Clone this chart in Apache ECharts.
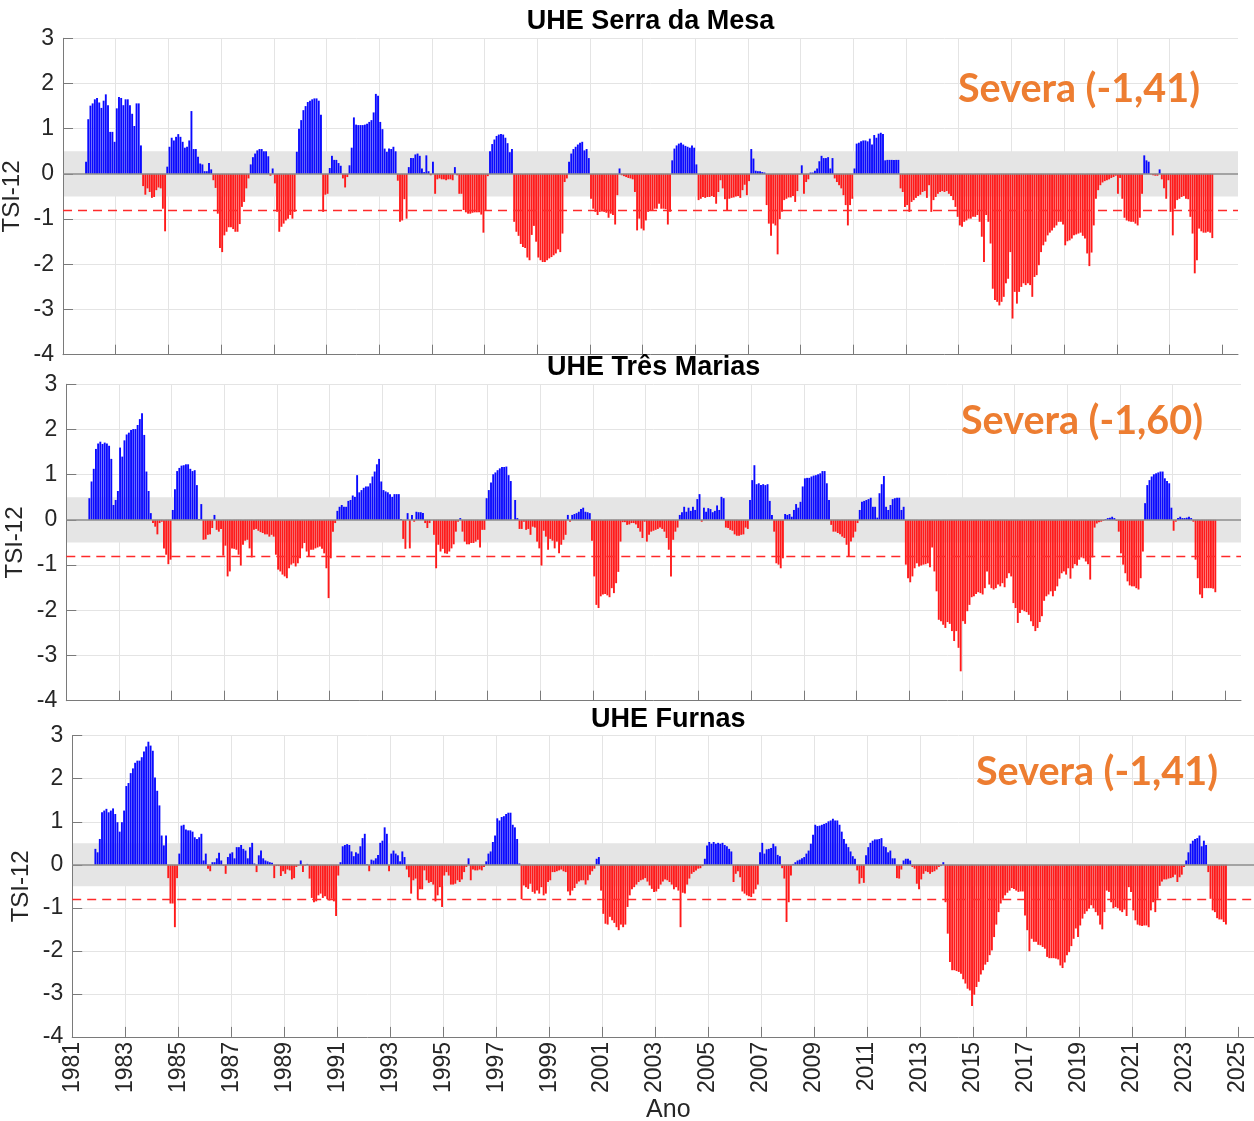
<!DOCTYPE html>
<html>
<head>
<meta charset="utf-8">
<script src="https://cdn.jsdelivr.net/npm/echarts@6/dist/echarts.min.js"></script>
<style>
html,body{margin:0;padding:0;background:#ffffff;}
#chart{width:1254px;height:1121px;}
</style>
</head>
<body>
<div id="chart"></div>
<script>
// ---------------- DATA ----------------
// Monthly TSI-12 values, first value = November 1981
const startYear = 1981;
const startMonth = 11;
const baseYear = 1981;           // x axis origin (labels are baseYear + value)
const tickYears = [1981,1983,1985,1987,1989,1991,1993,1995,1997,1999,2001,2003,2005,2007,2009,2011,2013,2015,2017,2019,2021,2023,2025];
const yTicks = [-4,-3,-2,-1,0,1,2,3];
const titles = ['UHE Serra da Mesa', 'UHE Três Marias', 'UHE Furnas'];
const severaLabels = ['Severa (-1,41)', 'Severa (-1,60)', 'Severa (-1,41)'];
const yAxisName = 'TSI-12';
const xAxisName = 'Ano';
const bandLimits = [-0.5, 0.5];
const dashedLevel = -0.8;

const serraDaMesa = [
0.27,1.21,1.51,1.56,1.65,1.68,1.58,1.46,1.62,1.76,1.52,0.93,0.93,0.71,1.45,1.70,1.68,1.52,1.65,1.65,1.52,1.33,1.06,1.56,1.56,0.63,
-0.27,-0.46,-0.32,-0.40,-0.53,-0.51,-0.36,-0.30,-0.32,-0.77,-1.27,
0.16,0.60,0.80,0.74,0.82,0.88,0.82,0.71,0.58,0.60,0.74,1.39,0.55,0.55,0.38,0.23,0.21,0.06,0.06,0.24,0.10,
-0.14,-0.31,-0.88,-1.64,-1.73,-1.36,-1.28,-1.18,-1.18,-1.22,-1.28,-1.28,-1.11,-0.73,-0.62,-0.32,-0.10,
0.21,0.37,0.45,0.52,0.55,0.55,0.50,0.50,0.39,-0.04,0.12,
-0.21,-0.84,-1.28,-1.17,-1.10,-1.03,-0.99,-0.91,-0.99,-0.84,
0.49,1.00,1.19,1.41,1.50,1.59,1.62,1.65,1.67,1.67,1.62,1.31,
-0.84,-0.46,-0.44,
0.13,0.40,0.31,0.31,0.24,0.18,
-0.10,-0.30,-0.07,
0.19,0.58,1.25,1.09,1.08,1.08,1.08,1.09,1.11,1.15,1.19,1.36,1.77,1.73,1.15,0.99,0.56,0.49,0.56,0.55,0.60,0.50,
-0.15,-1.06,-1.03,-0.56,-0.99,
0.15,0.35,0.35,0.43,0.45,0.40,0.12,0.04,0.41,0.06,-0.03,0.27,
-0.44,-0.12,-0.10,-0.12,-0.12,-0.14,-0.12,-0.12,-0.14,0.15,-0.03,-0.44,-0.44,-0.80,
-0.85,-0.88,-0.88,-0.86,-0.85,-0.85,-0.85,-0.90,-1.30,-0.82,-0.05,
0.50,0.66,0.76,0.84,0.87,0.88,0.87,0.80,0.68,0.48,0.55,
-1.06,-1.28,-1.37,-1.55,-1.62,-1.64,-1.85,-1.91,-1.35,-1.15,-1.50,-1.85,-1.91,-1.95,-1.95,-1.91,-1.87,-1.84,-1.80,-1.76,-1.67,-1.73,-1.32,-0.18,-0.10,
0.27,0.45,0.55,0.60,0.65,0.69,0.71,0.52,0.55,0.35,
-0.55,-0.77,-0.84,-0.91,-0.84,-0.83,-0.84,-0.86,-0.97,-0.88,-0.91,-1.12,-0.47,
0.12,
-0.03,-0.05,-0.07,-0.09,-0.10,-0.12,-0.40,
-1.25,-0.99,-1.21,-1.25,-1.03,-0.84,-0.80,-0.80,-0.77,-0.77,-0.66,-0.77,-0.77,-0.78,-1.12,-0.84,
0.30,0.56,0.63,0.67,0.69,0.65,0.62,0.60,0.58,0.63,0.58,0.21,
-0.58,-0.55,-0.51,-0.53,-0.51,-0.51,-0.49,-0.51,-0.66,-0.40,-0.14,-0.32,-0.56,-0.80,-0.55,-0.53,-0.52,-0.50,-0.49,-0.53,-0.36,-0.24,-0.47,-0.16,
0.55,0.34,0.07,0.06,0.06,0.04,0.03,
-0.69,-1.10,-1.37,-1.10,-1.14,-1.78,-1.00,-0.84,-0.58,-0.55,-0.52,-0.52,-0.49,-0.62,-0.38,-0.01,
0.19,
-0.44,-0.18,-0.12,
0.03,0.03,0.07,0.12,0.28,0.40,0.35,0.35,0.37,0.12,0.35,
-0.10,-0.18,-0.25,-0.32,-0.47,-0.69,-1.14,-0.69,-0.55,
0.12,0.67,0.69,0.72,0.74,0.74,0.72,0.78,0.65,0.86,0.80,0.89,0.91,0.88,0.30,0.31,0.31,0.31,0.31,0.31,0.31,
-0.32,-0.40,-0.73,-0.69,-0.84,-0.62,-0.58,-0.53,-0.49,-0.46,
-0.40,-0.38,-0.53,-0.25,-0.84,-0.58,-0.51,-0.44,-0.40,-0.38,
-0.40,-0.38,-0.44,-0.49,-0.58,-0.73,-0.95,-1.14,-1.17,-1.06,
-1.03,-0.99,-0.99,-0.95,-0.95,-0.91,-1.06,-1.39,-1.95,-0.91,
-1.06,-1.54,-2.54,-2.79,-2.83,-2.91,-2.83,-2.72,-2.42,-2.32,
-1.73,-3.20,-2.61,-2.87,-2.61,-2.50,-2.42,-2.46,-2.42,-2.46,
-2.72,-2.28,-2.24,-2.02,-1.73,-1.58,-1.50,-1.36,-1.30,-1.25,
-1.19,-1.14,-1.06,-1.06,-1.12,-1.58,-1.49,-1.47,-1.43,-1.36,
-1.34,-1.32,-1.30,-1.37,-1.43,-1.76,-2.04,-1.74,-1.14,-0.55,
-0.36,-0.25,-0.19,-0.16,-0.14,-0.12,-0.09,-0.07,-0.04,-0.44,
-0.09,-0.55,-0.97,-1.03,-1.05,-1.06,-1.06,-1.10,-1.14,-0.97,
-0.44,0.41,0.30,0.27,-0.01,-0.03,-0.04,-0.04,0.10,-0.12,
-0.32,-0.55,-0.14,-0.84,-1.36,-0.77,-0.58,-0.55,-0.51,-0.49,
-0.55,-0.56,-0.95,-1.32,-2.20,-1.91,-1.21,-1.27,-1.30,-1.30,
-1.28,-1.30,-1.42
];

const tresMarias = [
0.48,0.85,1.13,1.57,1.69,1.73,1.68,1.71,1.69,1.64,1.35,0.33,0.44,0.64,1.60,1.40,1.76,1.89,1.93,1.99,2.01,2.01,2.10,2.23,2.36,1.88,1.07,0.64,0.15,
-0.07,-0.15,-0.32,-0.07,-0.04,-0.63,-0.77,-0.98,-0.88,
0.22,0.68,1.08,1.15,1.20,1.21,1.23,1.23,1.13,1.08,1.10,0.77,0.02,0.35,
-0.44,-0.43,-0.33,-0.32,-0.18,0.11,
-0.22,-0.26,-0.20,-0.79,-0.57,-1.25,-1.14,-0.63,-0.64,-0.66,-0.77,-1.01,-0.55,-0.46,-0.44,-0.63,-0.83,-0.22,
-0.20,-0.24,-0.27,-0.29,-0.32,-0.32,-0.37,-0.33,-0.37,-0.77,-1.10,-1.14,-1.21,-1.25,-1.29,-1.07,-0.99,-0.96,-1.03,-0.96,-0.85,-0.63,-0.51,-0.70,-0.81,-0.66,-0.66,-0.63,-0.61,-0.59,-0.64,-0.74,-1.07,-1.73,-0.85,-0.26,-0.07,
0.20,0.29,0.33,0.29,0.29,0.42,0.44,0.54,0.51,0.99,0.61,0.66,0.71,0.74,0.74,0.81,0.96,1.07,1.23,1.35,0.85,0.66,0.63,0.61,0.57,0.51,0.57,0.57,0.57,0.02,
-0.42,-0.64,0.15,-0.63,0.11,-0.04,0.18,0.17,0.17,0.15,-0.07,-0.18,-0.07,0.00,-0.33,-1.07,-0.55,-0.70,-0.64,-0.74,-0.75,-0.70,-0.63,-0.54,-0.26,-0.04,0.04,-0.26,-0.48,
-0.54,-0.54,-0.51,-0.51,-0.48,-0.44,-0.61,-0.22,-0.22,
0.48,0.66,0.83,1.01,1.05,1.10,1.14,1.17,1.17,1.18,0.99,0.86,0.00,0.44,0.04,
-0.20,-0.20,-0.04,-0.22,-0.20,-0.33,-0.15,-0.17,-0.48,-0.63,-1.01,-0.24,-0.37,-0.66,-0.42,-0.46,-0.63,-0.48,-0.74,-0.55,-0.44,-0.33,
0.11,-0.04,0.11,0.13,0.15,0.18,0.24,0.27,0.18,0.17,0.15,
-0.46,-1.25,-1.88,-1.95,-1.69,-1.65,-1.64,-1.67,-1.71,-1.51,-1.62,-1.40,-1.15,-0.48,
-0.05,-0.05,-0.11,-0.10,-0.07,-0.07,-0.10,-0.18,-0.26,-0.40,-0.04,
-0.48,-0.33,-0.26,-0.24,-0.22,-0.20,-0.17,-0.20,-0.26,-0.40,-0.66,-1.25,-0.44,-0.26,-0.17,
0.11,0.17,0.29,0.18,0.27,0.20,0.29,0.22,0.46,0.57,-0.04,0.27,0.18,0.26,0.24,0.17,0.20,0.32,0.22,0.51,0.48,
-0.17,-0.18,-0.22,-0.24,-0.32,-0.35,-0.35,-0.33,-0.32,-0.17,-0.20,
0.44,0.88,1.21,0.79,0.81,0.77,0.79,0.77,0.79,0.42,0.11,
-0.26,-0.96,-0.99,-1.07,-0.85,
0.13,0.11,0.13,0.07,0.22,0.35,0.27,0.40,0.74,0.92,0.93,0.93,0.96,0.98,0.99,1.01,1.03,1.08,1.08,0.81,0.44,
-0.11,-0.26,-0.26,-0.29,-0.32,-0.37,-0.40,-0.55,-0.81,-0.48,-0.39,-0.26,-0.07,
0.22,0.40,0.42,0.44,0.46,0.49,0.29,0.29,0.05,0.59,0.79,0.97,0.29,0.22,0.33,0.46,0.48,0.49,0.49,0.22,0.29,
-0.99,-1.29,-1.38,-1.25,-1.07,-0.96,-1.03,-1.01,-0.99,-0.98,
-0.96,-1.05,-0.61,-1.14,-1.58,-2.21,-2.24,-2.32,-2.39,-2.26,
-2.30,-2.46,-2.68,-2.46,-2.83,-3.35,-2.24,-2.30,-2.02,-1.88,
-1.71,-1.69,-1.64,-1.60,-1.62,-1.65,-1.51,-1.14,-1.43,-1.51,
-1.54,-1.51,-1.43,-1.47,-1.40,-1.49,-1.29,-1.18,-1.25,-1.84,
-1.95,-2.28,-2.06,-1.99,-2.02,-2.04,-2.10,-2.24,-2.35,-2.46,
-2.39,-2.26,-2.13,-1.79,-1.69,-1.65,-1.58,-1.69,-1.57,-1.47,
-1.30,-1.18,-1.14,-1.21,-1.07,-1.30,-1.07,-0.98,-1.01,-0.88,
-0.83,-0.85,-0.92,-0.98,-1.32,-0.83,-0.17,-0.08,-0.05,-0.04,
-0.02,
0.02,0.04,0.05,0.07,0.04,-0.02,
-0.26,-0.74,-0.99,-1.18,-1.36,-1.45,-1.47,-1.47,-1.51,-1.54,-1.29,-0.70,
0.37,0.77,0.88,0.96,1.01,1.03,1.05,1.07,1.07,0.92,0.86,0.81,0.27,
-0.24,
-0.04,0.04,0.07,0.04,0.04,0.05,0.07,0.04,-0.04,
-0.88,-1.29,-1.65,-1.73,-1.51,-1.51,-1.51,-1.51,-1.52,-1.60
];

const furnas = [
0.37,0.29,0.60,1.22,1.26,1.30,1.22,1.26,1.31,1.18,0.99,0.77,0.99,1.26,1.83,1.90,2.13,2.24,2.37,2.42,2.42,2.50,2.63,2.75,2.86,2.77,2.65,2.03,1.72,1.38,0.68,0.45,0.68,
-0.31,-0.90,-0.90,-1.45,-0.31,
0.26,0.91,0.93,0.82,0.80,0.80,0.77,0.64,0.60,0.64,0.72,0.10,0.26,
-0.09,-0.15,
0.06,0.06,0.15,0.28,0.10,
-0.02,-0.21,
0.18,0.26,0.29,0.15,0.41,0.41,0.46,0.37,0.33,0.15,0.41,0.51,
0.03,-0.17,
0.22,0.33,0.15,0.10,0.08,0.06,0.05,
-0.31,-0.03,-0.03,-0.26,-0.15,-0.21,-0.11,-0.13,-0.34,-0.31,-0.05,-0.02,0.10,-0.17,-0.02,0.02,
-0.32,-0.77,-0.87,-0.85,-0.71,-0.67,-0.77,-0.73,-0.80,-0.83,-0.79,-0.85,-1.19,-0.25,
0.06,0.43,0.46,0.48,0.46,0.31,0.20,0.29,0.26,0.43,0.62,0.72,
0.02,-0.15,
0.12,0.10,0.15,0.23,0.51,0.56,0.87,0.72,
-0.15,
0.26,0.33,0.26,0.22,0.08,0.31,0.18,
-0.11,-0.29,-0.67,-0.36,-0.32,-0.80,-0.57,-0.57,-0.13,-0.36,-0.42,-0.40,-0.46,-0.85,-0.71,-0.52,-0.98,-0.25,-0.17,-0.25,-0.46,-0.46,-0.44,-0.36,-0.40,-0.34,
-0.17,-0.05,0.15,-0.36,-0.11,-0.13,-0.13,-0.11,-0.13,-0.05,0.08,0.26,
0.31,0.53,0.68,1.08,1.03,1.11,1.13,1.18,1.21,1.21,0.93,0.87,0.60,0.03,
-0.80,-0.48,-0.52,-0.56,-0.44,-0.63,-0.67,-0.60,-0.67,-0.52,-0.71,-0.67,-0.40,-0.36,-0.17,-0.17,-0.15,-0.13,-0.11,-0.15,-0.17,-0.62,-0.71,-0.60,-0.54,-0.44,-0.39,-0.36,-0.36,-0.46,-0.36,-0.23,-0.15,-0.09,0.14,0.18,
-0.60,-1.14,-1.37,-1.39,-1.21,-1.29,-1.35,-1.45,-1.52,-1.39,
-1.45,-1.39,-0.98,-0.71,-0.57,-0.52,-0.46,-0.40,-0.36,-0.34,
-0.31,-0.39,-0.48,-0.56,-0.63,-0.62,-0.56,-0.46,-0.39,-0.34,
-0.36,-0.40,-0.46,-0.57,-0.52,-0.60,-1.45,-0.65,-0.67,-0.46,
-0.32,-0.21,-0.17,-0.13,-0.09,-0.08,-0.03,
0.14,0.45,0.53,0.49,0.53,0.49,0.51,0.49,0.51,0.46,0.43,0.37,0.31,
-0.40,-0.21,-0.15,-0.29,-0.62,-0.67,-0.71,-0.73,-0.75,-0.67,-0.57,-0.46,
0.29,0.51,0.26,0.36,0.37,0.39,0.49,0.43,0.23,0.20,
-0.08,-0.32,-1.33,-0.87,-0.25,
0.02,0.06,0.10,0.12,0.15,0.18,0.26,0.33,0.49,0.70,0.93,0.90,0.91,0.93,0.95,0.97,1.01,1.03,1.07,1.03,1.03,0.93,0.77,0.60,0.49,0.41,0.31,0.20,
0.14,
-0.13,-0.44,-0.31,-0.42,
0.22,0.41,0.51,0.56,0.59,0.59,0.60,0.62,0.43,0.41,0.29,0.33,0.15,0.15,
-0.31,-0.32,-0.11,
0.10,0.14,0.14,0.10,
-0.05,-0.09,-0.44,-0.57,-0.34,-0.21,-0.15,-0.17,-0.21,-0.17,-0.15,-0.11,-0.05,-0.03,
0.06,
-0.87,-1.60,-2.26,-2.45,-2.45,-2.47,-2.49,-2.53,-2.66,-2.76,
-2.88,-2.92,-3.28,-3.02,-2.84,-2.72,-2.55,-2.45,-2.32,-2.26,
-2.10,-1.99,-1.68,-1.39,-1.10,-0.90,-0.79,-0.71,-0.65,-0.60,
-0.54,-0.56,-0.60,-0.63,-0.62,-0.62,-1.18,-1.52,-2.01,-1.72,
-1.79,-1.79,-1.86,-1.87,-1.91,-1.95,-2.14,-2.17,-2.17,-2.17,
-2.18,-2.20,-2.34,-2.40,-2.27,-2.10,-2.03,-1.89,-1.72,-1.48,
-1.68,-1.41,-1.25,-1.14,-1.08,-1.02,-0.94,-1.01,-1.10,-1.18,
-1.39,-1.50,-1.10,-0.60,-0.63,-0.87,-1.01,-0.98,-1.01,-1.06,
-1.10,-1.04,-1.19,-0.52,-0.63,-1.06,-1.29,-1.39,-1.41,-1.42,
-1.41,-1.41,-1.45,-1.06,-0.87,-1.10,-0.79,-0.49,-0.39,-0.34,
-0.34,-0.32,-0.31,-0.29,-0.23,-0.40,-0.29,-0.23,-0.05,
0.10,0.29,0.49,0.56,0.60,0.62,0.68,0.43,0.56,0.46,
-0.17,-0.79,-1.06,-1.10,-1.24,-1.27,-1.27,-1.33,-1.39
];

// ---------------- LAYOUT / STYLE ----------------
const seriesList = [serraDaMesa, tresMarias, furnas];
const layout = [
  {left:63,   top:38.3,  width:1175,   height:316.4, titleY:21.5, sevX:1079, sevY:89,  showX:false},
  {left:66.3, top:384.3, width:1174.7, height:316.4, titleY:368,  sevX:1082, sevY:421, showX:false},
  {left:72.2, top:735.7, width:1192.2, height:301.2, titleY:719.5,sevX:1097, sevY:772, showX:true}
];
const X_MAX = 44.6; // years after baseYear shown on the axis
const BLUE = '#0a0aff', RED = '#ff1a1a';
const AXIS_COLOR = '#7a7a7a', GRID_COLOR = '#e4e4e4', TEXT_COLOR = '#262626';
const FONT = '"Liberation Sans", Arial, Helvetica, sans-serif';

const tickOffsets = tickYears.map(y => y - baseYear);

function monthlyPoints(values) {
  return values.map((v, k) => [(startYear - baseYear) + (startMonth - 1 + 0.5 + k) / 12, v]);
}

const grids = [], xAxes = [], yAxes = [], series = [], graphics = [];
layout.forEach((L, i) => {
  grids.push({left:L.left, top:L.top, width:L.width, height:L.height, containLabel:false});
  xAxes.push({
    type:'value', gridIndex:i, min:0, max:X_MAX, interval:2, z:1,
    axisLine:{show:true, onZero:false, lineStyle:{color:AXIS_COLOR, width:1}},
    axisTick:{show:true, inside:true, length:10, customValues:tickOffsets, lineStyle:{color:AXIS_COLOR, width:1}},
    axisLabel:{show:L.showX, customValues:tickOffsets, rotate:90, margin:5, fontSize:23, fontFamily:FONT, color:TEXT_COLOR,
      formatter: v => String(Math.round(v) + baseYear)},
    splitLine:{show:true, showMaxLine:false, lineStyle:{color:GRID_COLOR, width:1}}
  });
  yAxes.push({
    type:'value', gridIndex:i, min:-4, max:3, interval:1, z:1,
    axisLine:{show:true, lineStyle:{color:AXIS_COLOR, width:1}},
    axisTick:{show:true, inside:true, length:10, lineStyle:{color:AXIS_COLOR, width:1}},
    axisLabel:{show:true, margin:9, fontSize:23, fontFamily:FONT, color:TEXT_COLOR},
    splitLine:{show:true, lineStyle:{color:GRID_COLOR, width:1}}
  });
  // grey normal band
  series.push({
    type:'line', xAxisIndex:i, yAxisIndex:i, z:0.5, silent:true, symbol:'none',
    data:[[0,0]], lineStyle:{opacity:0},
    markArea:{silent:true, itemStyle:{color:'#e5e5e5'}, data:[[{yAxis:bandLimits[0]},{yAxis:bandLimits[1]}]]}
  });
  // bars
  series.push({
    type:'bar', xAxisIndex:i, yAxisIndex:i, z:2, barWidth:'86%',
    data: monthlyPoints(seriesList[i]),
    itemStyle:{color: p => (p.value[1] < 0 ? RED : BLUE)},
    animation:false
  });
  // zero baseline
  series.push({
    type:'line', xAxisIndex:i, yAxisIndex:i, z:3, silent:true, symbol:'none',
    data:[[0,0]], lineStyle:{opacity:0},
    markLine:{silent:true, symbol:['none','none'], label:{show:false}, animation:false,
      lineStyle:{color:'#8c8c8c', width:1.5, type:'solid'},
      data:[{yAxis:0}]}
  });
  // red dashed reference line
  series.push({
    type:'line', xAxisIndex:i, yAxisIndex:i, z:4, silent:true, symbol:'none',
    data:[[0,0]], lineStyle:{opacity:0},
    markLine:{silent:true, symbol:['none','none'], label:{show:false}, animation:false,
      lineStyle:{color:'#ff2a2a', width:1.3, type:[9,6], opacity:1},
      data:[{yAxis:dashedLevel}]}
  });
  const cx = L.left + L.width / 2;
  graphics.push({type:'text', x:cx, y:L.titleY, z:10,
    style:{text:titles[i], fontSize:27, fontWeight:'bold', fontFamily:FONT, fill:'#000', align:'center', verticalAlign:'middle'}});
  graphics.push({type:'text', x:L.left - 51, y:L.top + L.height / 2, rotation:Math.PI / 2, z:10,
    style:{text:yAxisName, fontSize:24, fontFamily:FONT, fill:TEXT_COLOR, align:'center', verticalAlign:'middle'}});
  graphics.push({type:'text', x:L.sevX, y:L.sevY, z:10,
    style:{text:severaLabels[i], fontSize:39.5, fontWeight:'bold', fontFamily:'Lato, "Open Sans", sans-serif', fill:'#ED7D31', align:'center', verticalAlign:'middle'}});
});
graphics.push({type:'text', x:layout[2].left + layout[2].width / 2, y:1110, z:10,
  style:{text:xAxisName, fontSize:25, fontFamily:FONT, fill:TEXT_COLOR, align:'center', verticalAlign:'middle'}});

const chart = echarts.init(document.getElementById('chart'), null, {renderer:'canvas'});
chart.setOption({
  animation:false,
  backgroundColor:'#ffffff',
  grid:grids, xAxis:xAxes, yAxis:yAxes, series:series, graphic:graphics
});
</script>
</body>
</html>
